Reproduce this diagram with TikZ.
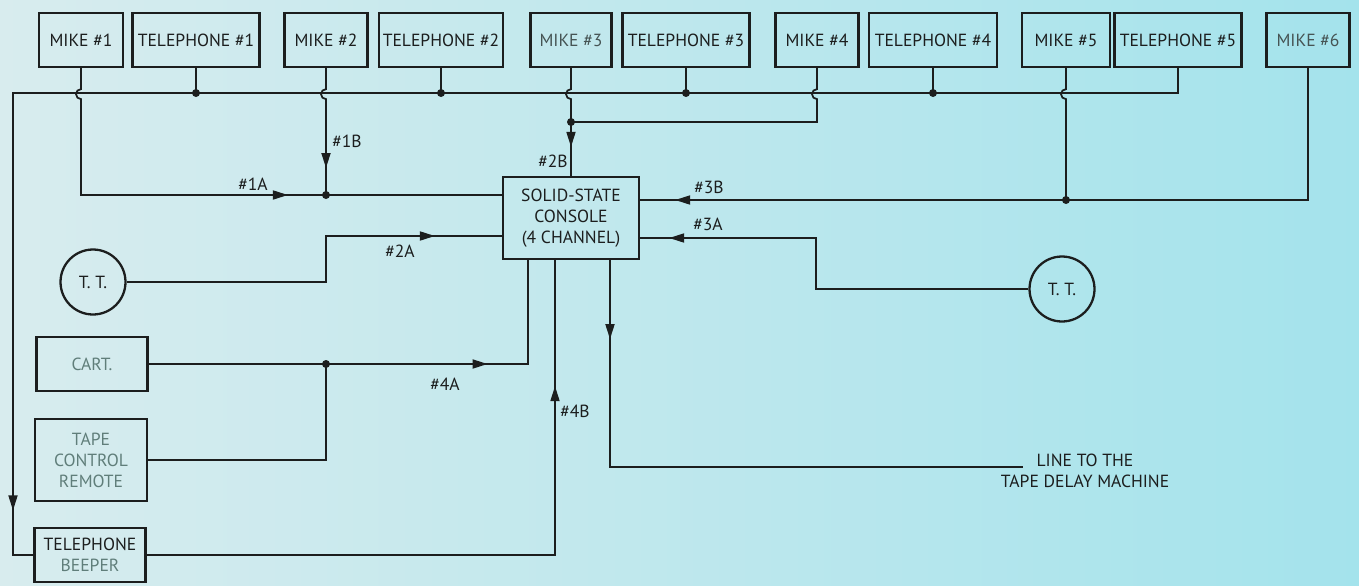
\documentclass[tikz,border=0pt]{standalone}
\usepackage{fontspec}
\setmainfont{PT Sans}
\usepackage{xcolor}
\usetikzlibrary{arrows.meta,decorations.markings}
\definecolor{bgleft}{RGB}{216,236,238}
\definecolor{bgright}{RGB}{164,227,236}
\definecolor{ink}{RGB}{28,30,30}
\definecolor{faded}{RGB}{96,126,122}
\definecolor{dim}{RGB}{70,84,84}

\begin{document}
\begin{tikzpicture}[x=0.02cm,y=-0.02cm,color=ink,line width=1pt,
  font=\fontsize{10}{12}\selectfont,
  box/.style={draw=ink,line width=1.3pt,minimum height=1.08cm,inner sep=1pt},
  mic/.style={box,minimum width=1.66cm},
  phone/.style={box,minimum width=2.54cm},
  tt/.style={draw=ink,line width=1.3pt,circle,minimum size=1.3cm,inner sep=0pt},
  flow/.style={postaction={decorate},decoration={markings,
    mark=at position #1 with {\arrow{Triangle[length=3mm,width=1.8mm]}}}}]
\shade[left color=bgleft,right color=bgright] (0,0) rectangle (1359,585);

% sources along the top
\node[mic,minimum width=1.68cm] (mike1) at (81,40) {MIKE \#1};
\node[phone] (tel1) at (196,40) {TELEPHONE \#1};
\node[mic] (mike2) at (326,40) {MIKE \#2};
\node[phone,minimum width=2.48cm] (tel2) at (441,40) {TELEPHONE \#2};
\node[mic,minimum width=1.62cm] (mike3) at (571,40) {\textcolor{dim}{MIKE \#3}};
\node[phone] (tel3) at (686,40) {TELEPHONE \#3};
\node[mic] (mike4) at (817,40) {MIKE \#4};
\node[phone,minimum width=2.56cm] (tel4) at (933,40) {TELEPHONE \#4};
\node[mic,minimum width=1.76cm] (mike5) at (1066,40) {MIKE \#5};
\node[phone] (tel5) at (1178,40) {TELEPHONE \#5};
\node[mic] (mike6) at (1308,40) {\textcolor{dim}{MIKE \#6}};

% console and the other sources
\node[box,minimum width=2.72cm,minimum height=1.64cm,align=center] (console) at (571,218) {SOLID-STATE\\CONSOLE\\(4 CHANNEL)};
\node[tt] (tt1) at (93,282) {T. T.};
\node[tt] (tt2) at (1062,289) {T. T.};
\node[box,minimum width=2.22cm] (cart) at (92,364) {\textcolor{faded}{CART.}};
\node[box,minimum width=2.24cm,minimum height=1.64cm,align=center] (tape) at (91,460) {\textcolor{faded}{TAPE}\\\textcolor{faded}{CONTROL}\\\textcolor{faded}{REMOTE}};
\node[box,minimum width=2.22cm,align=center] (beeper) at (90,555) {TELEPHONE\\\textcolor{faded}{BEEPER}};
\node[align=center] (delay) at (1085,471) {LINE TO THE\\TAPE DELAY MACHINE};

\coordinate (busL) at (13,93);
\coordinate (j1) at (326,195);
\coordinate (j2) at (571,122);
\coordinate (j3) at (1066,200);
\coordinate (j4) at (326,364);
\coordinate (in2a) at (326,236);
\coordinate (in3a) at (816,238);
\coordinate (lineend) at (1023,467);

% telephone bus
\draw[flow=-1.3cm] (tel5.south) |- (busL) |- (beeper.west);
\draw (tel1.south) -- (tel1.south |- busL);
\draw (tel2.south) -- (tel2.south |- busL);
\draw (tel3.south) -- (tel3.south |- busL);
\draw (tel4.south) -- (tel4.south |- busL);
\fill (tel1.south |- busL) circle (0.08cm);
\fill (tel2.south |- busL) circle (0.08cm);
\fill (tel3.south |- busL) circle (0.08cm);
\fill (tel4.south |- busL) circle (0.08cm);

% mikes hop over the bus
\draw[flow=-4.28cm] (mike1.south) -- ++(0,21) arc[start angle=90,end angle=270,radius=0.1cm] |- (j1) -- (console.west |- j1);
\draw[flow=-0.54cm] (mike2.south) -- ++(0,21) arc[start angle=90,end angle=270,radius=0.1cm] -- (j1);
\draw[flow=-0.58cm] (mike3.south) -- ++(0,21) arc[start angle=90,end angle=270,radius=0.1cm] -- (console.north);
\draw (mike4.south) -- ++(0,21) arc[start angle=90,end angle=270,radius=0.1cm] |- (j2);
\draw (mike5.south) -- ++(0,21) arc[start angle=90,end angle=270,radius=0.1cm] -- (j3);
\draw[flow=-0.7cm] (mike6.south) |- (console.east |- j3);
\fill (j1) circle (0.08cm);
\fill (j2) circle (0.08cm);
\fill (j3) circle (0.08cm);

% turntables, cart, tape remote, beeper
\draw[flow=-1.34cm] (tt1.east) -| (in2a) -- (console.west |- in2a);
\draw[flow=-0.58cm] (tt2.west) -| (in3a) -- (console.east |- in3a);
\draw[flow=6.78cm] (cart.east) -| ([xshift=-0.86cm]console.south);
\draw (tape.east) -| (j4);
\fill (j4) circle (0.08cm);
\draw[flow=-2.52cm] (beeper.east) -| ([xshift=-0.32cm]console.south);
\draw[flow=1.58cm] ([xshift=0.78cm]console.south) |- (lineend);

% channel labels
\node (l1a) at (253,184) {\#1A};
\node (l1b) at (347,141) {\#1B};
\node (l2a) at (400,251) {\#2A};
\node (l2b) at (553,161) {\#2B};
\node (l3a) at (708,224) {\#3A};
\node (l3b) at (709,187) {\#3B};
\node (l4a) at (445,384) {\#4A};
\node (l4b) at (575,411) {\#4B};
\end{tikzpicture}
\end{document}
